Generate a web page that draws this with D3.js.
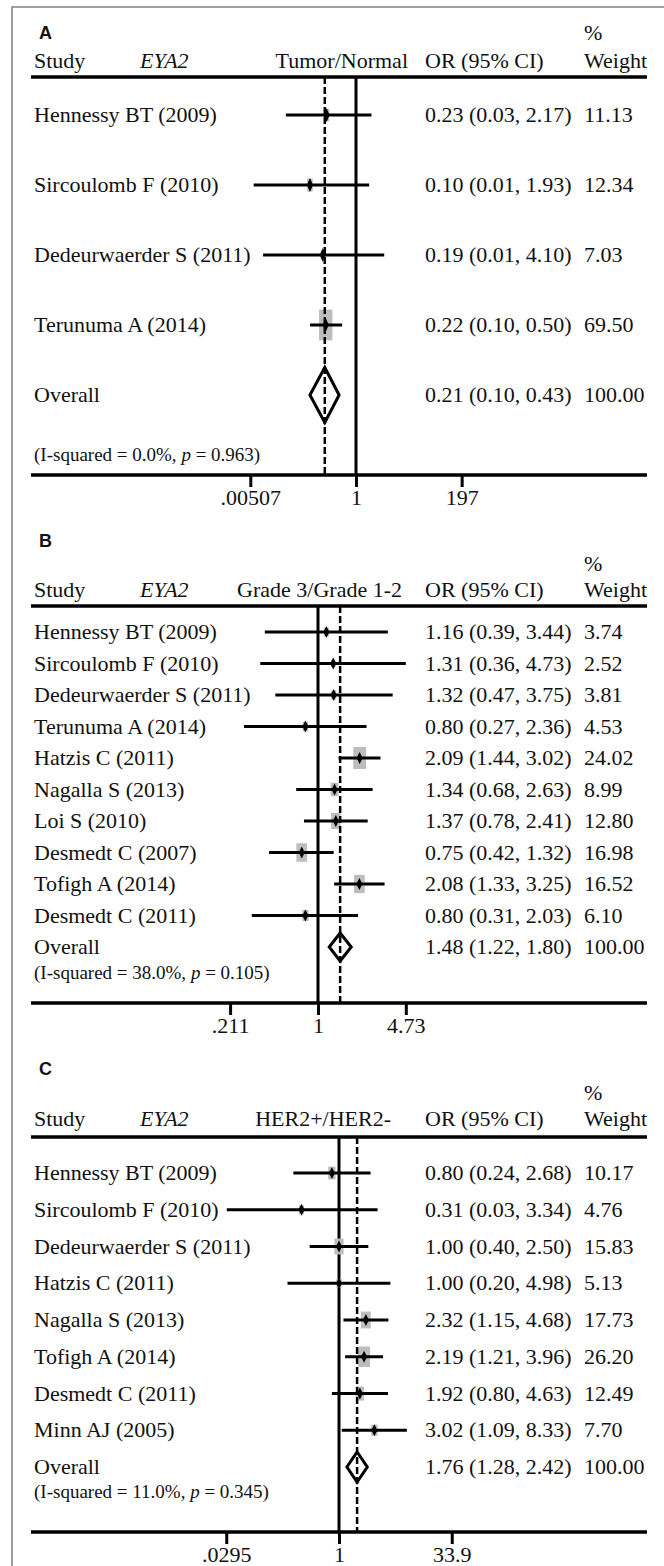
<!DOCTYPE html>
<html>
<head>
<meta charset="utf-8">
<script src="https://cdn.jsdelivr.net/npm/d3@7"></script>
<style>
  html, body { margin: 0; padding: 0; background: #fff; }
  svg { display: block; }
</style>
</head>
<body>
<svg id="chart" width="664" height="1566"></svg>
<script>
// ---------------- DATA ----------------
// Panel A: Tumor/Normal
const studiesA = ["Hennessy BT (2009)", "Sircoulomb F (2010)", "Dedeurwaerder S (2011)", "Terunuma A (2014)"];
const orA     = [0.23, 0.10, 0.19, 0.22];
const lowA    = [0.03, 0.006, 0.0096, 0.10];
const highA   = [2.17, 1.93, 4.10, 0.50];
const weightA = [11.13, 12.34, 7.03, 69.50];
const overallA = [0.21, 0.10, 0.43];
const ticksA = [0.00507, 1, 197];
const tickLabelsA = [".00507", "1", "197"];

// Panel B: Grade 3/Grade 1-2
const studiesB = ["Hennessy BT (2009)", "Sircoulomb F (2010)", "Dedeurwaerder S (2011)", "Terunuma A (2014)",
  "Hatzis C (2011)", "Nagalla S (2013)", "Loi S (2010)", "Desmedt C (2007)", "Tofigh A (2014)", "Desmedt C (2011)"];
const orB     = [1.16, 1.31, 1.32, 0.80, 2.09, 1.34, 1.37, 0.75, 2.08, 0.80];
const lowB    = [0.39, 0.36, 0.47, 0.27, 1.44, 0.68, 0.78, 0.42, 1.33, 0.31];
const highB   = [3.44, 4.73, 3.75, 2.36, 3.02, 2.63, 2.41, 1.32, 3.25, 2.03];
const weightB = [3.74, 2.52, 3.81, 4.53, 24.02, 8.99, 12.80, 16.98, 16.52, 6.10];
const overallB = [1.48, 1.22, 1.80];
const ticksB = [0.211, 1, 4.73];
const tickLabelsB = [".211", "1", "4.73"];

// Panel C: HER2+/HER2-
const studiesC = ["Hennessy BT (2009)", "Sircoulomb F (2010)", "Dedeurwaerder S (2011)", "Hatzis C (2011)",
  "Nagalla S (2013)", "Tofigh A (2014)", "Desmedt C (2011)", "Minn AJ (2005)"];
const orC     = [0.80, 0.31, 1.00, 1.00, 2.32, 2.19, 1.92, 3.02];
const lowC    = [0.24, 0.03, 0.40, 0.20, 1.15, 1.21, 0.80, 1.09];
const highC   = [2.68, 3.34, 2.50, 4.98, 4.68, 3.96, 4.63, 8.33];
const weightC = [10.17, 4.76, 15.83, 5.13, 17.73, 26.20, 12.49, 7.70];
const overallC = [1.76, 1.28, 2.42];
const ticksC = [0.0295, 1, 33.9];
const tickLabelsC = [".0295", "1", "33.9"];

const panelLetters = ["A", "B", "C"];
const effectLabels = ["Tumor/Normal", "Grade 3/Grade 1-2", "HER2+/HER2-"];
const hetI2 = ["0.0%", "38.0%", "11.0%"];
const hetP  = ["0.963", "0.105", "0.345"];

// ---------------- LAYOUT ----------------
const SERIF = "'Liberation Serif', 'Times New Roman', serif";
const SANS = "'Liberation Sans', Arial, sans-serif";
const FS = 22;
const colStudy = 34, colGene = 140, colOR = 425, colW = 584;
const lineX0 = 31, lineX1 = 647;

const panels = [
  { letter: panelLetters[0], effect: effectLabels[0], studies: studiesA, or: orA, low: lowA, high: highA, w: weightA,
    overall: overallA, ticks: ticksA, tickLabels: tickLabelsA, i2: hetI2[0], p: hetP[0],
    L: { letterY: 39, pctY: 40, headY: 68, lineY: 77, row0: 115, step: 70, hetY: 461, axisY: 475,
         x1: 356, k: 20, effectX: 408, boxW: 1.6, boxH: 3.7, mkW: 6, mkH: 14, diaH: 55 } },
  { letter: panelLetters[1], effect: effectLabels[1], studies: studiesB, or: orB, low: lowB, high: highB, w: weightB,
    overall: overallB, ticks: ticksB, tickLabels: tickLabelsB, i2: hetI2[1], p: hetP[1],
    L: { letterY: 547, pctY: 571, headY: 597, lineY: 606, row0: 632, step: 31.5, hetY: 979, axisY: 1003,
         x1: 318, k: 56.5, effectX: 402, boxW: 2.6, boxH: 4.5, mkW: 6, mkH: 12, diaH: 28 } },
  { letter: panelLetters[2], effect: effectLabels[2], studies: studiesC, or: orC, low: lowC, high: highC, w: weightC,
    overall: overallC, ticks: ticksC, tickLabels: tickLabelsC, i2: hetI2[2], p: hetP[2],
    L: { letterY: 1075, pctY: 1100, headY: 1126, lineY: 1137, row0: 1173, step: 36.75, hetY: 1498, axisY: 1532,
         x1: 339, k: 32, effectX: 391, boxW: 2.3, boxH: 4.0, mkW: 6, mkH: 12, diaH: 30 } }
];

const f2 = d3.format(".2f");
const svg = d3.select("#chart");

// outer frame
svg.append("rect").attr("x", 12).attr("y", 7).attr("width", 700).attr("height", 1600)
  .attr("fill", "none").attr("stroke", "#808080").attr("stroke-width", 1.5);

function txt(g, x, y, s, opts = {}) {
  return g.append("text").attr("x", x).attr("y", y).text(s)
    .attr("font-family", opts.family || SERIF)
    .attr("font-size", opts.size || FS)
    .attr("font-style", opts.italic ? "italic" : "normal")
    .attr("font-weight", opts.bold ? "bold" : "normal")
    .attr("text-anchor", opts.anchor || "start")
    .attr("fill", "#111");
}

panels.forEach(P => {
  const L = P.L;
  const g = svg.append("g");
  const T = P.ticks[2];
  const x = d3.scaleLog().domain([1 / T, T])
    .range([L.x1 - L.k * Math.log(T), L.x1 + L.k * Math.log(T)]);
  const n = P.studies.length;
  const y = d3.scaleLinear().domain([0, n]).range([L.row0, L.row0 + n * L.step]);

  // labels / header
  txt(g, 39, L.letterY, P.letter, { family: SANS, bold: true, size: 18 });
  txt(g, colW, L.pctY, "%");
  txt(g, colStudy, L.headY, "Study");
  txt(g, colGene, L.headY, "EYA2", { italic: true });
  txt(g, L.effectX, L.headY, P.effect, { anchor: "end" });
  txt(g, colOR, L.headY, "OR (95% CI)");
  txt(g, colW, L.headY, "Weight");

  // header line & axis line
  g.append("line").attr("x1", lineX0).attr("x2", lineX1).attr("y1", L.lineY).attr("y2", L.lineY)
    .attr("stroke", "#000").attr("stroke-width", 3.5);
  g.append("line").attr("x1", lineX0).attr("x2", lineX1).attr("y1", L.axisY).attr("y2", L.axisY)
    .attr("stroke", "#000").attr("stroke-width", 3.5);

  // null line at OR = 1
  g.append("line").attr("x1", x(1)).attr("x2", x(1)).attr("y1", L.lineY).attr("y2", L.axisY)
    .attr("stroke", "#000").attr("stroke-width", 3);

  // study rows
  const rows = g.append("g");
  P.studies.forEach((s, i) => {
    const cy = y(i);
    const bw = L.boxW * Math.sqrt(P.w[i]), bh = L.boxH * Math.sqrt(P.w[i]);
    rows.append("rect").attr("x", x(P.or[i]) - bw / 2).attr("y", cy - bh / 2)
      .attr("width", bw).attr("height", bh).attr("fill", "#bdbdbd");
    rows.append("line").attr("x1", x(P.low[i])).attr("x2", x(P.high[i])).attr("y1", cy).attr("y2", cy)
      .attr("stroke", "#000").attr("stroke-width", 3);
    const mx = x(P.or[i]);
    rows.append("path")
      .attr("d", `M${mx},${cy - L.mkH / 2}L${mx + L.mkW / 2},${cy}L${mx},${cy + L.mkH / 2}L${mx - L.mkW / 2},${cy}Z`)
      .attr("fill", "#000");
    txt(rows, colStudy, cy + 7, s);
    txt(rows, colOR, cy + 7, `${f2(P.or[i])} (${f2(P.low[i])}, ${f2(P.high[i])})`);
    txt(rows, colW, cy + 7, f2(P.w[i]));
  });

  // overall
  const oy = y(n);
  const [oe, ol, oh] = P.overall;
  g.append("path")
    .attr("d", `M${x(ol)},${oy}L${x(oe)},${oy - L.diaH / 2}L${x(oh)},${oy}L${x(oe)},${oy + L.diaH / 2}Z`)
    .attr("fill", "none").attr("stroke", "#000").attr("stroke-width", 3).attr("stroke-linejoin", "miter");
  txt(g, colStudy, oy + 7, "Overall");
  txt(g, colOR, oy + 7, `${f2(oe)} (${f2(ol)}, ${f2(oh)})`);
  txt(g, colW, oy + 7, f2(100));

  // dashed overall line
  g.append("line").attr("x1", x(oe)).attr("x2", x(oe)).attr("y1", L.lineY).attr("y2", L.axisY)
    .attr("stroke", "#000").attr("stroke-width", 2.5).attr("stroke-dasharray", "7,3");

  // heterogeneity
  const ht = txt(g, colStudy, L.hetY, "", { size: 19 });
  ht.append("tspan").text(`(I-squared = ${P.i2}, `);
  ht.append("tspan").attr("font-style", "italic").text("p");
  ht.append("tspan").text(` = ${P.p})`);

  // axis ticks
  const axis = d3.axisBottom(x).tickValues(P.ticks)
    .tickFormat((d, i) => P.tickLabels[i]).tickSize(12).tickPadding(2);
  const ag = g.append("g").attr("transform", `translate(0,${L.axisY})`).call(axis);
  ag.select(".domain").remove();
  ag.selectAll(".tick line").attr("stroke", "#000").attr("stroke-width", 3);
  ag.selectAll(".tick text").attr("font-family", SERIF).attr("font-size", FS).attr("fill", "#111");
});
</script>
</body>
</html>
